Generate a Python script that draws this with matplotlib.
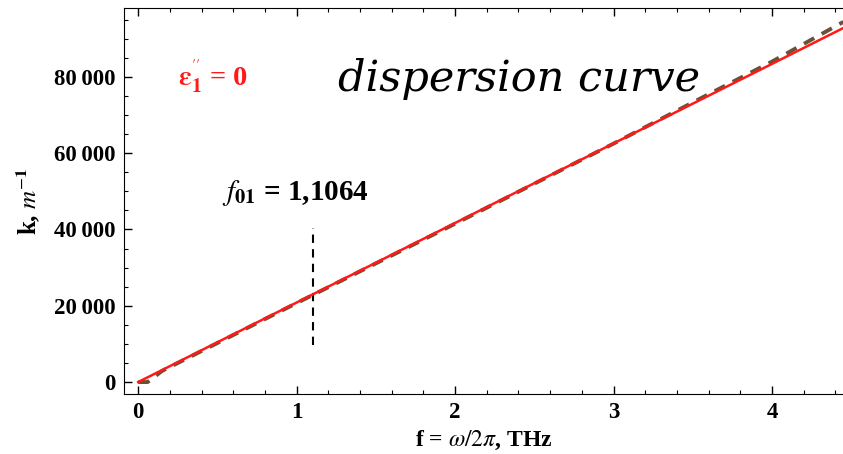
import matplotlib.pyplot as plt
from matplotlib.ticker import MultipleLocator, FuncFormatter

# dispersion curve, eps''_1 = 0 (solid red)
f_red = [0.0, 1.0, 2.0, 3.0, 4.0, 4.45]
k_red = [0, 20850, 41700, 62550, 83400, 92800]

# reference curve (dashed brown)
f_ref = [0.0, 0.06, 0.15, 1.0, 2.0, 3.0, 3.5, 4.0, 4.45]
k_ref = [0, 0, 2900, 20700, 41500, 62500, 73300, 84000, 94400]

f01 = 1.1064
k_marker = [9700, 40300]

plt.rcParams['font.family'] = ['Liberation Serif', 'DejaVu Serif']
plt.rcParams['mathtext.fontset'] = 'stix'

fig = plt.figure(figsize=(8.43, 4.54), dpi=100)
ax = fig.add_axes([0.147, 0.132, 0.853, 0.850])

ax.plot(f_ref, k_ref, color='#6b5236', lw=2.8, ls=(0, (3, 2.2)), zorder=2)
ax.plot(f_red, k_red, color='#ff1a1a', lw=1.8, zorder=3)
ax.plot([f01, f01], k_marker, color='black', lw=1.5, ls=(0, (4, 3)))

ax.set_xlim(-0.09, 4.448)
ax.set_ylim(-3150, 98000)

ax.xaxis.set_major_locator(MultipleLocator(1))
ax.xaxis.set_minor_locator(MultipleLocator(0.2))
ax.yaxis.set_major_locator(MultipleLocator(20000))
ax.yaxis.set_minor_locator(MultipleLocator(5000))
ax.yaxis.set_major_formatter(FuncFormatter(
    lambda v, p: '0' if v == 0 else '{:,}'.format(int(v)).replace(',', '\u2009')))

ax.tick_params(which='both', direction='in', top=True, right=False)
ax.tick_params(which='major', length=6, width=1, labelsize=16.5, pad=6)
ax.tick_params(which='minor', length=3, width=0.8)
for lab in ax.get_xticklabels() + ax.get_yticklabels():
    lab.set_fontweight('bold')
ax.spines['right'].set_visible(False)

ax.set_xlabel(r'f = $\omega/2\pi$, THz', fontsize=17, fontweight='bold')
ax.set_ylabel(r'k, $m^{-\mathbf{1}}$', fontsize=18, fontweight='bold', labelpad=8)

ax.text(0.25, 80000, r"$\boldsymbol{\varepsilon}_\mathbf{1}^{''}$ = 0", color='#ff1a1a',
        fontsize=20.5, fontweight='bold', va='center')
ax.text(0.53, 49500, r'$f_{\mathbf{01}}$ = 1,1064', color='black',
        fontsize=21, fontweight='bold', va='center')
ax.text(1.26, 79500, 'dispersion curve', fontsize=31, style='italic',
        family=['DejaVu Serif'], va='center')

fig.savefig('out.png', dpi=100)
